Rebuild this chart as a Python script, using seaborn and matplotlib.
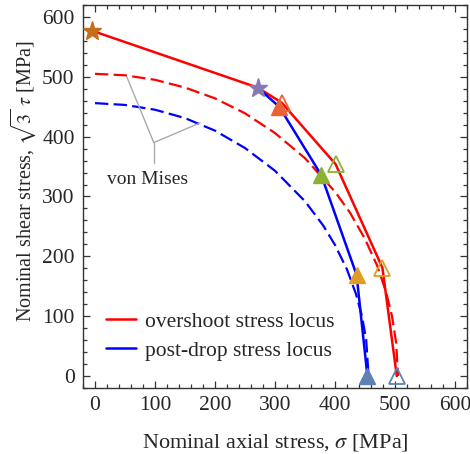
import numpy as np
import pandas as pd
import matplotlib
matplotlib.use("Agg")
import matplotlib.pyplot as plt
import seaborn as sns
from matplotlib.ticker import MultipleLocator

# ------------------------------
# data (sigma, sqrt(3) tau) in MPa
# ------------------------------
overshoot_sigma = [-5, 271, 311, 401, 479, 503]
overshoot_tau = [577, 482, 457, 354, 181, 0]

postdrop_sigma = [271, 307, 377, 436, 454]
postdrop_tau = [482, 450, 336, 169, 0]

# von Mises loci (dashed)
vm_red_sigma = [0, 50, 100, 150, 200, 250, 300, 350, 400, 425, 450, 470, 485, 495, 502, 505]
vm_red_tau = [505, 502.5, 495, 482, 464, 439, 406, 364, 308, 273, 229, 185, 141, 100, 55, 0]
vm_blue_sigma = [0, 50, 100, 150, 200, 250, 300, 350, 380, 400, 420, 435, 445, 452, 456]
vm_blue_tau = [456, 453, 445, 431, 410, 381, 343, 292, 252, 219, 178, 137, 100, 60, 0]

# markers: (sigma, tau, color)
stars = [(-5, 577, "#C56E1A"), (271, 482, "#8778B3")]
filled_tri = [(307, 450, "#EB6235"), (377, 336, "#8FB032"),
              (436, 169, "#E19C24"), (454, 0, "#5E81B5")]
open_tri = [(311, 457, "#EB6235"), (401, 354, "#8FB032"),
            (479, 181, "#E19C24"), (503, 0, "#5E81B5")]

# ------------------------------
# style
# ------------------------------
sns.set_style("ticks")
plt.rcParams["font.family"] = ["Liberation Serif", "DejaVu Serif"]
plt.rcParams["mathtext.fontset"] = "stix"

fig = plt.figure(figsize=(4.7, 4.54), dpi=100)
ax = fig.add_axes([0.1766, 0.1454, 0.817, 0.8436])

dash = (6, 2.4)
sns.lineplot(x=vm_red_sigma, y=vm_red_tau, ax=ax, color="red", lw=1.6,
             sort=False, estimator=None)
ax.lines[-1].set_dashes(dash)
sns.lineplot(x=vm_blue_sigma, y=vm_blue_tau, ax=ax, color="blue", lw=1.6,
             sort=False, estimator=None)
ax.lines[-1].set_dashes(dash)

sns.lineplot(x=overshoot_sigma, y=overshoot_tau, ax=ax, color="red", lw=1.8,
             sort=False, estimator=None, label="overshoot stress locus")
sns.lineplot(x=postdrop_sigma, y=postdrop_tau, ax=ax, color="blue", lw=1.8,
             sort=False, estimator=None, label="post-drop stress locus")

for s, t, c in stars:
    ax.plot(s, t, marker="*", ms=14, color=c, mec=c, zorder=5, clip_on=False)
for s, t, c in filled_tri:
    ax.plot(s, t, marker="^", ms=12, color=c, mec=c, zorder=5, clip_on=False)
for s, t, c in open_tri:
    ax.plot(s, t, marker="^", ms=11, mfc="none", mec=c, mew=1.3, zorder=4,
            clip_on=False)

# von Mises annotation bracket
grey = "#aaaaaa"
ax.plot([98, 98], [356, 390], color=grey, lw=1.0)
ax.plot([98, 53], [390, 500], color=grey, lw=1.0)
ax.plot([98, 175], [390, 423], color=grey, lw=1.0)
ax.text(87, 328, "von Mises", ha="center", va="center", fontsize=14)

ax.set_xlim(-20, 620)
ax.set_ylim(-20, 620)
ax.xaxis.set_major_locator(MultipleLocator(100))
ax.xaxis.set_minor_locator(MultipleLocator(20))
ax.yaxis.set_major_locator(MultipleLocator(100))
ax.yaxis.set_minor_locator(MultipleLocator(20))
ax.tick_params(which="both", direction="in", top=True, right=True,
               labeltop=False, labelright=False, width=0.9, color="#333333")
ax.tick_params(which="major", length=5, labelsize=15.5, pad=6)
ax.tick_params(which="minor", length=3)
for sp in ax.spines.values():
    sp.set_visible(True)
    sp.set_linewidth(1.0)
    sp.set_color("#333333")

ax.set_xlabel(r"Nominal axial stress, $\sigma$ [MPa]", fontsize=16, labelpad=12)
ax.set_ylabel(r"Nominal shear stress, $\sqrt{3}\ \tau$ [MPa]", fontsize=14.5)
ax.yaxis.set_label_coords(-0.118, 0.54)

ax.legend(loc="lower left", bbox_to_anchor=(0.01, 0.02), frameon=False,
          fontsize=15.5, handlelength=1.4, handletextpad=0.4, labelspacing=0.42)

fig.savefig("out.png", dpi=100)
